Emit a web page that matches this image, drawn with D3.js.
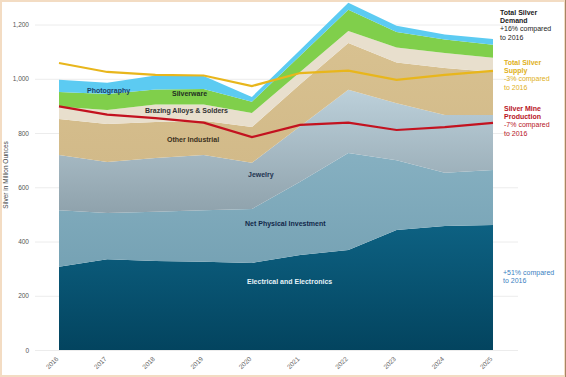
<!DOCTYPE html>
<html>
<head>
<meta charset="utf-8">
<script src="https://cdn.jsdelivr.net/npm/d3@7"></script>
<style>
  body { margin: 0; background: #fff; }
  svg { display: block; font-family: "Liberation Sans", Arial, sans-serif; }
</style>
</head>
<body>
<svg width="566" height="377"></svg>
<script>
// values, million ounces
var years = [2016, 2017, 2018, 2019, 2020, 2021, 2022, 2023, 2024, 2025];
var electrical = [307, 335, 328, 325, 321, 350, 369, 442, 457, 461];
var physicalInvestment = [208, 170, 182, 190, 199, 270, 357, 258, 196, 203];
var jewelry = [204, 188, 198, 204, 170, 205, 233, 210, 213, 202];
var otherIndustrial = [133, 140, 133, 126, 132, 155, 173, 150, 174, 159];
var brazing = [45, 52, 64, 60, 52, 45, 44, 55, 55, 52];
var silverware = [54, 59, 55, 57, 41, 60, 78, 57, 50, 48];
var photography = [45, 41, 52, 48, 18, 21, 26, 23, 18, 22];
var totalSupply = [1058, 1025, 1014, 1012, 973, 1021, 1030, 996, 1014, 1029];
var mineProduction = [898, 868, 855, 838, 785, 830, 838, 811, 822, 837];
var yTicks = [0, 200, 400, 600, 800, 1000, 1200];

var keys = ["electrical", "physical", "jewelry", "other", "brazing", "silverware", "photo"];
var series = [electrical, physicalInvestment, jewelry, otherIndustrial, brazing, silverware, photography];
var rows = years.map(function(y, i) {
  var r = { year: y };
  keys.forEach(function(k, j) { r[k] = series[j][i]; });
  return r;
});

var svg = d3.select("svg");
var x = d3.scaleLinear().domain([2016, 2025]).range([59, 493]);
var y = d3.scaleLinear().domain([0, 1200]).range([350, 24.5]);

var defs = svg.append("defs");
function grad(id, top, bottom) {
  var g = defs.append("linearGradient").attr("id", id)
    .attr("x1", 0).attr("y1", 0).attr("x2", 0).attr("y2", 1);
  g.append("stop").attr("offset", "0%").attr("stop-color", top);
  g.append("stop").attr("offset", "100%").attr("stop-color", bottom);
}
grad("gElec", "#0d6182", "#03445f");
grad("gPhys", "#86b0c1", "#76a2b4");
grad("gJew", "#bcd0da", "#8fa2ac");
grad("gOther", "#d8c190", "#d2ba89");

var fills = {
  electrical: "url(#gElec)", physical: "url(#gPhys)", jewelry: "url(#gJew)",
  other: "url(#gOther)", brazing: "#e8dfcd", silverware: "#80cf4b", photo: "#5ccbf2"
};

// gridlines
svg.append("g").attr("transform", "translate(518,0)")
  .call(d3.axisLeft(y).tickValues(yTicks).tickSize(483).tickFormat(""))
  .call(function(g) { g.select(".domain").remove(); })
  .selectAll("line").attr("stroke", "#ececec");

var stacked = d3.stack().keys(keys)(rows);
var area = d3.area()
  .x(function(d) { return x(d.data.year); })
  .y0(function(d) { return y(d[0]); })
  .y1(function(d) { return y(d[1]); });

svg.append("g").selectAll("path").data(stacked).enter().append("path")
  .attr("d", area)
  .attr("fill", function(d) { return fills[d.key]; });

var line = d3.line()
  .x(function(d, i) { return x(years[i]); })
  .y(function(d) { return y(d); });

svg.append("path").datum(totalSupply).attr("d", line)
  .attr("fill", "none").attr("stroke", "#e8b61c").attr("stroke-width", 2.2);
svg.append("path").datum(mineProduction).attr("d", line)
  .attr("fill", "none").attr("stroke", "#c3121f").attr("stroke-width", 2.2);

// y axis
svg.append("g").attr("transform", "translate(35,0)")
  .call(d3.axisLeft(y).tickValues(yTicks).tickSize(0).tickPadding(6).tickFormat(d3.format(",")))
  .call(function(g) { g.select(".domain").remove(); })
  .selectAll("text").attr("font-size", "6.5px").attr("fill", "#555").attr("font-family", "Liberation Sans, Arial");

// x axis
svg.append("g").attr("transform", "translate(0,350)")
  .call(d3.axisBottom(x).tickValues(years).tickSize(0).tickFormat(d3.format("d")))
  .call(function(g) { g.select(".domain").remove(); })
  .selectAll("text")
  .attr("font-size", "6.5px").attr("fill", "#666").attr("font-family", "Liberation Sans, Arial")
  .attr("text-anchor", "end").attr("y", 0).attr("dy", "0.3em")
  .attr("transform", "translate(-2,8) rotate(-45)");

svg.append("text")
  .attr("transform", "translate(8,175) rotate(-90)")
  .attr("text-anchor", "middle").attr("font-size", "6.5px").attr("fill", "#444")
  .text("Silver in Million Ounces");

// layer labels
var labels = [
  ["Photography", 87, 93, "#1d3f66"],
  ["Silverware", 172, 96, "#1f2f22"],
  ["Brazing Alloys & Solders", 145, 113, "#333"],
  ["Other Industrial", 167, 142, "#3a3020"],
  ["Jewelry", 248, 177, "#1d3350"],
  ["Net Physical Investment", 245, 226, "#12284a"],
  ["Electrical and Electronics", 247, 284, "#e6f2f8"]
];
svg.append("g").selectAll("text").data(labels).enter().append("text")
  .attr("x", function(d) { return d[1]; })
  .attr("y", function(d) { return d[2]; })
  .attr("font-size", "7px").attr("font-weight", "bold")
  .attr("fill", function(d) { return d[3]; })
  .text(function(d) { return d[0]; });

// right side notes
var notes = [
  [500, 15, "#222", ["Total Silver", "Demand"], ["+16% compared", "to 2016"]],
  [504, 65, "#e0b020", ["Total Silver", "Supply"], ["-3% compared", "to 2016"]],
  [504, 111, "#b8141e", ["Silver Mine", "Production"], ["-7% compared", "to 2016"]],
  [503, 275, "#3a7fbf", [], ["+51% compared", "to 2016"]]
];
notes.forEach(function(n) {
  var t = svg.append("text").attr("x", n[0]).attr("y", n[1])
    .attr("font-size", "7px").attr("fill", n[2]);
  var lines = n[3].map(function(s) { return [s, "bold"]; })
    .concat(n[4].map(function(s) { return [s, "normal"]; }));
  lines.forEach(function(l, i) {
    t.append("tspan").attr("x", n[0]).attr("dy", i === 0 ? 0 : 8.2)
      .attr("font-weight", l[1]).text(l[0]);
  });
});

// screenshot frame
svg.append("rect").attr("x", 1).attr("y", 1).attr("width", 564).attr("height", 375)
  .attr("fill", "none").attr("stroke", "#f3dcc3").attr("stroke-width", 2);
svg.append("line").attr("x1", 565.5).attr("x2", 565.5).attr("y1", 0).attr("y2", 377)
  .attr("stroke", "#a58565").attr("stroke-width", 1);
</script>
</body>
</html>
